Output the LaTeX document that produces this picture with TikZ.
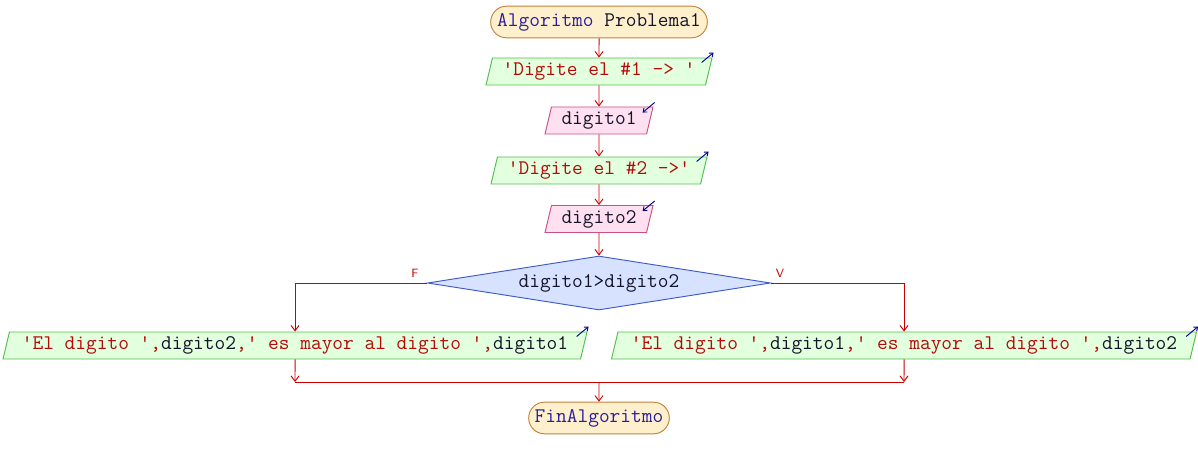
\documentclass[tikz,border=0pt]{standalone}
\usepackage{fontspec}
\usepackage{tikz}
\usetikzlibrary{arrows.meta,shapes.geometric,shapes.misc,positioning}
\definecolor{flujo}{RGB}{200,0,0}
\definecolor{termfill}{RGB}{255,240,205}
\definecolor{termline}{RGB}{195,130,55}
\definecolor{salfill}{RGB}{226,255,222}
\definecolor{salline}{RGB}{80,190,80}
\definecolor{entfill}{RGB}{255,224,240}
\definecolor{entline}{RGB}{200,80,130}
\definecolor{decfill}{RGB}{214,226,255}
\definecolor{decline}{RGB}{60,90,200}
\definecolor{clave}{RGB}{40,30,160}
\definecolor{cadena}{RGB}{180,10,10}
\definecolor{var}{RGB}{20,20,40}
\definecolor{icono}{RGB}{0,0,140}
\tikzset{>={Straight Barb[length=4pt,width=6pt]}}

\begin{document}
\begin{tikzpicture}[x=0.75pt,y=-0.75pt,line width=0.7pt]
    \fontsize{15.6pt}{17pt}\ttfamily
    \tikzset{
      term/.style={rounded rectangle, draw=termline, fill=termfill, minimum height=26*0.75pt, inner xsep=2pt},
      salida/.style={trapezium, trapezium left angle=70, trapezium right angle=110, trapezium stretches body,
        draw=salline, fill=salfill, minimum height=27*0.75pt, inner sep=0pt, text=cadena},
      entrada/.style={salida, draw=entline, fill=entfill, text=var},
      decision/.style={diamond, aspect=6.35, draw=decline, fill=decfill, minimum width=343*0.75pt, minimum height=54*0.75pt, inner sep=0pt, text=var},
      flow/.style={->, draw=flujo},
      line/.style={draw=flujo},
      etiq/.style={text=flujo, font=\fontsize{9pt}{10pt}\sffamily},
      icosal/.style={->, draw=icono, >={Straight Barb[length=2.5pt,width=4pt]}},
    }
    \useasboundingbox (0,0) rectangle (1198,463);

    % Inicio y lectura de datos.
    \path (599,22)    node[term, minimum width=222*0.75pt] (ini) {\textcolor{clave}{Algoritmo} \textcolor{var}{Problema1}};
    \path (599,71.5)  node[salida, minimum width=226*0.75pt] (out1) {'Digite el \#1 -> '};
    \path (599,120.5) node[entrada, minimum width=108*0.75pt] (in1) {digito1};
    \path (599,170.5) node[salida, minimum width=216*0.75pt] (out2) {'Digite el \#2 ->'};
    \path (599,219)   node[entrada, minimum width=108*0.75pt] (in2) {digito2};

    % Condicion.
    \path (599,283) node[decision] (cond) {digito1>digito2};
    \path (415,273) node[etiq] (F) {F};
    \path (780,273) node[etiq] (V) {V};

    % Ramas.
    \path (295,345.5) node[salida, minimum width=584*0.75pt] (outL)
      {'El digito ',\textcolor{var}{digito2},' es mayor al digito ',\textcolor{var}{digito1}};
    \path (904,345.5) node[salida, minimum width=585*0.75pt] (outR)
      {'El digito ',\textcolor{var}{digito1},' es mayor al digito ',\textcolor{var}{digito2}};
    \coordinate (jL) at (295,382);
    \coordinate (jR) at (904,382);
    \coordinate (join) at (599,382);

    \path (599,418) node[term, minimum width=146*0.75pt] (fin) {\textcolor{clave}{FinAlgoritmo}};

    % Conectores.
    \draw[flow] (ini) -- (out1);
    \draw[flow] (out1) -- (in1);
    \draw[flow] (in1) -- (out2);
    \draw[flow] (out2) -- (in2);
    \draw[flow] (in2) -- (cond);
    \draw[flow] (cond.west) -| (outL);
    \draw[flow] (cond.east) -| (outR);
    \draw[flow] (outL) -- (jL);
    \draw[flow] (outR) -- (jR);
    \draw[line] (jL) -- (jR);
    \draw[flow] (join) -- (fin);

    % Iconos de entrada/salida.
    \foreach \n in {out1,out2,outL,outR}
      \draw[icosal] ([shift={(-11,5)}]\n.top right corner) -- ([shift={(1,-5)}]\n.top right corner);
    \foreach \n in {in1,in2}
      \draw[icosal] ([shift={(1,-4)}]\n.top right corner) -- ([shift={(-11,6)}]\n.top right corner);

  \end{tikzpicture}
\end{document}
